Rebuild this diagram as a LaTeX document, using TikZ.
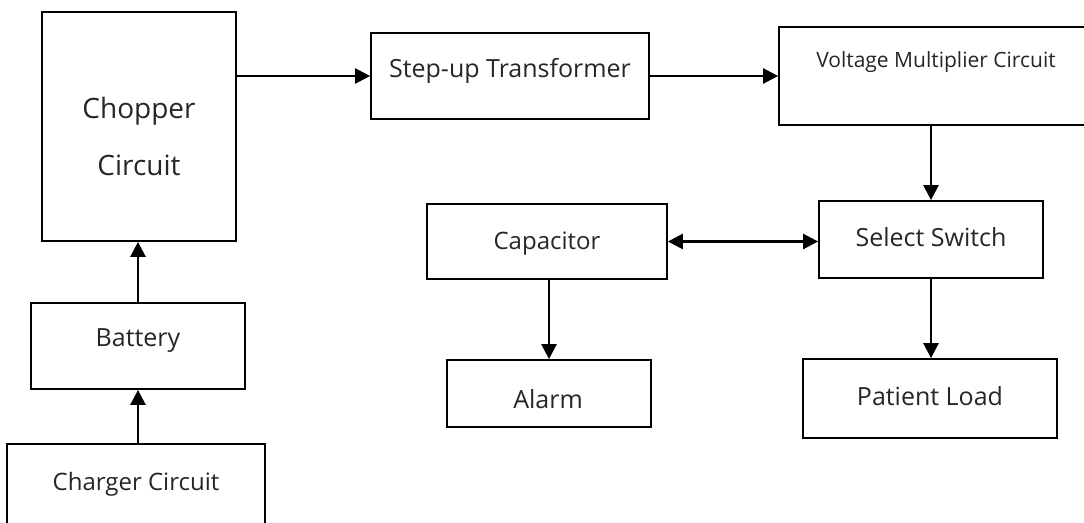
\documentclass[tikz,border=0pt]{standalone}
\usepackage{fontspec}
\setmainfont{Open Sans}
\usetikzlibrary{arrows.meta}

\begin{document}
\begin{tikzpicture}[x=1pt,y=-1pt,
	box/.style={shape=rectangle,draw=black,line width=1.8pt,inner sep=0pt},
	lbl/.style={anchor=base,inner sep=0pt,text=black!85,font=\fontsize{25}{30}\selectfont},
	arr/.style={line width=2.6pt,-{Triangle[length=15pt,width=15pt]}}]
	
	\useasboundingbox (0,0) rectangle (1084,522);
	\clip (0,0) rectangle (1084,522);
	
	\node[box,minimum width=194pt,minimum height=229pt] (chop) at (139, 126.5) {};
	\node[box,minimum width=214pt,minimum height=86pt] (batt) at (138, 346) {};
	\node[box,minimum width=258pt,minimum height=96pt] (chrg) at (136, 492) {};
	\node[box,minimum width=278pt,minimum height=86pt] (step) at (510, 76) {};
	\node[box,minimum width=311pt,minimum height=98pt] (mult) at (934.5, 76) {};
	\node[box,minimum width=240pt,minimum height=75pt] (cap) at (547, 241.5) {};
	\node[box,minimum width=224pt,minimum height=77pt] (sel) at (931, 239.5) {};
	\node[box,minimum width=204pt,minimum height=67pt] (alarm) at (549, 393.5) {};
	\node[box,minimum width=254pt,minimum height=79pt] (load) at (930, 398.5) {};
	
	\node[lbl,font=\fontsize{28}{32}\selectfont] (chopA) at (139, 118) {Chopper};
	\node[lbl,font=\fontsize{28}{32}\selectfont] (chopB) at (139, 175) {Circuit};
	\node[lbl] (battT) at (138, 346) {Battery};
	\node[lbl,font=\fontsize{24}{28}\selectfont] (chrgT) at (136, 490) {Charger Circuit};
	\node[lbl] (stepT) at (510, 77) {Step-up Transformer};
	\node[lbl,font=\fontsize{21}{25}\selectfont] (multT) at (936, 67) {Voltage Multiplier Circuit};
	\node[lbl,font=\fontsize{24}{28}\selectfont] (capT) at (547, 249) {Capacitor};
	\node[lbl] (selT) at (931, 246) {Select Switch};
	\node[lbl] (alarmT) at (548, 408) {Alarm};
	\node[lbl] (loadT) at (930, 405) {Patient Load};
	
	\draw[arr] (chop.east |- step.west) -- (step.west);
	\draw[arr] (step.east) -- (mult.west);
	\draw[arr] (sel.north |- mult.south) -- (sel.north);
	\draw[arr,{Triangle[length=15pt,width=15pt]}-{Triangle[length=15pt,width=15pt]}] (cap.east) -- (cap.east -| sel.west);
	\draw[arr] (alarm.north |- cap.south) -- (alarm.north);
	\draw[arr] (sel.south) -- (sel.south |- load.north);
	\draw[arr] (batt.north) -- (batt.north |- chop.south);
	\draw[arr] (chrg.north -| batt.south) -- (batt.south);
	
\end{tikzpicture}
\end{document}
